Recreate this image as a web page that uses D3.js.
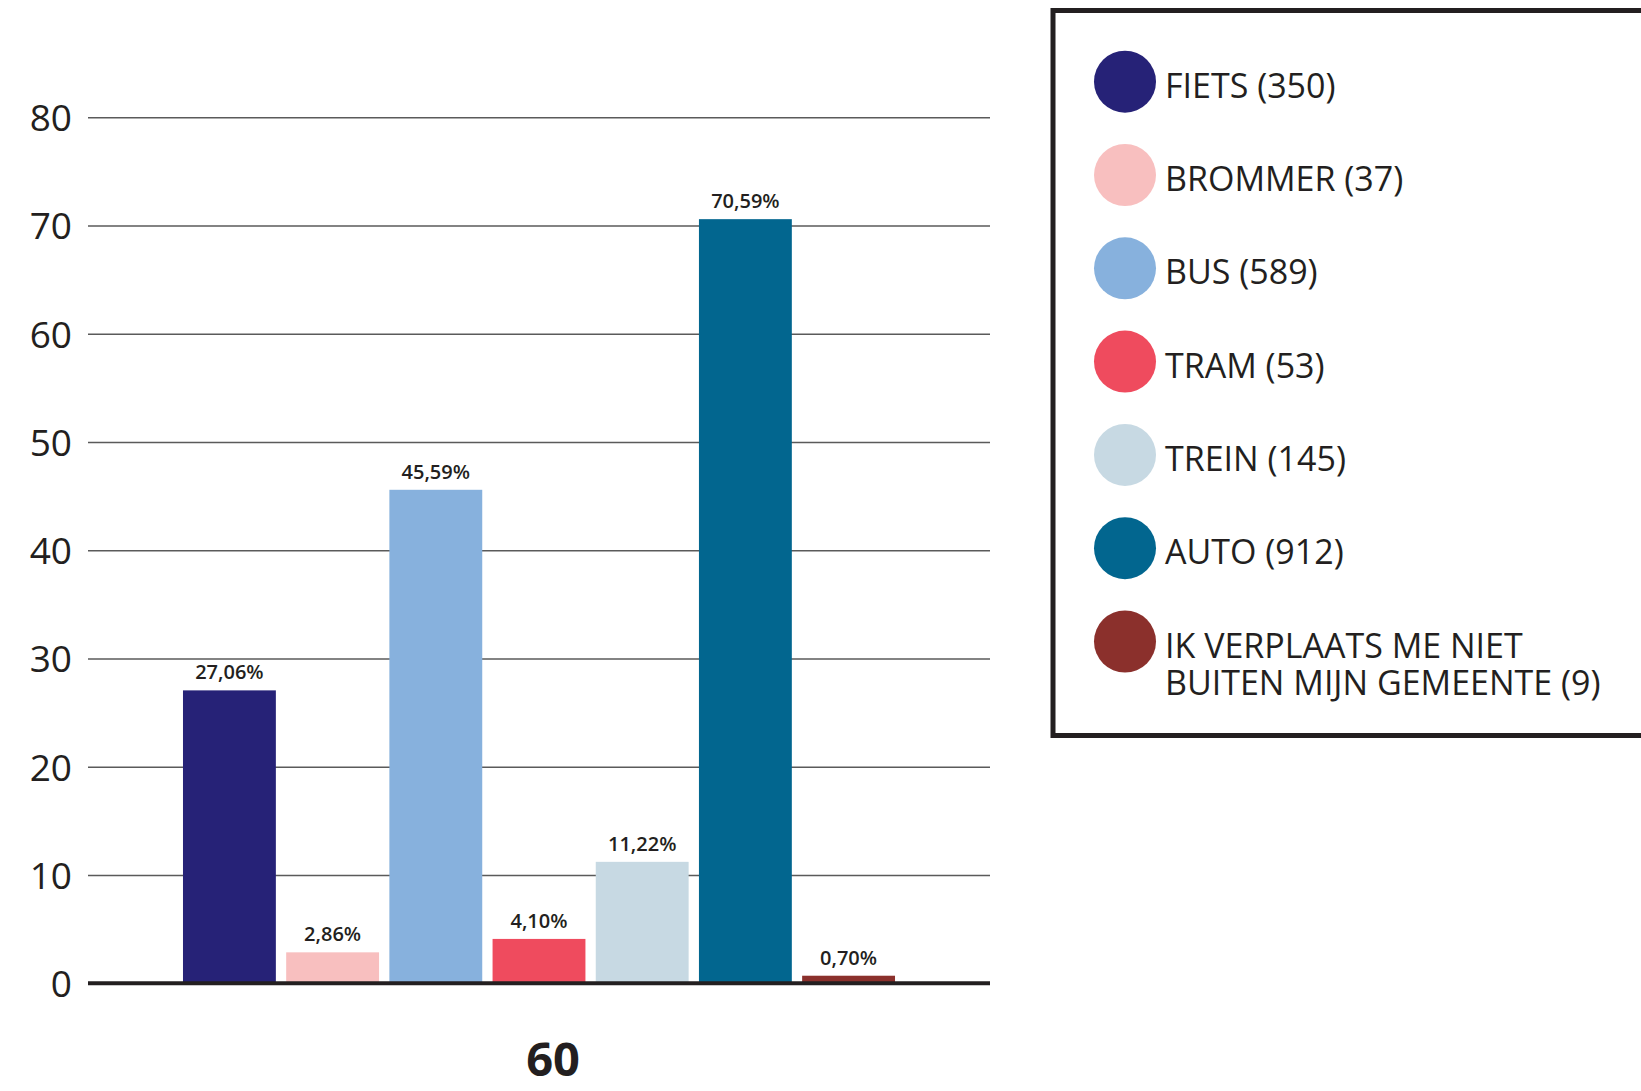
<!DOCTYPE html>
<html>
<head>
  <title>Vervoer</title>
  <script src="https://d3js.org/d3.v7.min.js"></script>
  <style>
    body { margin: 0; background: #fff; }
    svg { font-family: "Open Sans", "Noto Sans", sans-serif; }
    .grid line { stroke: #5a5a5a; stroke-width: 1.4px; }
    .grid text { fill: #231f20; font-size: 37px; }
    .val { fill: #231f20; font-size: 20px; font-weight: 600; text-anchor: middle; }
    .legend text { fill: #231f20; font-size: 34px; }
  </style>
</head>
<body>
  <script>
    // data
    var group = ["60"];
    var modes = ["FIETS", "BROMMER", "BUS", "TRAM", "TREIN", "AUTO", "IK VERPLAATS ME NIET BUITEN MIJN GEMEENTE"];
    var counts = [350, 37, 589, 53, 145, 912, 9];
    var percents = [27.06, 2.86, 45.59, 4.10, 11.22, 70.59, 0.70];
    var colors = ["#262277", "#f8bfbf", "#87b1dd", "#ef4b5e", "#c7d9e3", "#02668f", "#8b302c"];
    var yTicks = [0, 10, 20, 30, 40, 50, 60, 70, 80];

    var W = 1641, H = 1091;
    var plotLeft = 88, plotRight = 990, plotTop = 117.3, plotBottom = 983.3;

    var svg = d3.select("body").append("svg")
        .attr("width", W)
        .attr("height", H);

    var y = d3.scaleLinear().domain([0, 80]).range([plotBottom, plotTop]);

    var x0 = d3.scaleBand().domain(group).range([plotLeft, plotRight])
        .paddingInner(0).paddingOuter(0.1334);
    var x1 = d3.scaleBand().domain(modes).range([0, x0.bandwidth()])
        .paddingInner(0.1).paddingOuter(0);

    var nl = d3.formatLocale({decimal: ",", thousands: ".", grouping: [3], currency: ["€", ""]});
    var pct = nl.format(".2f");

    // gridlines + tick labels
    var axis = svg.append("g")
        .attr("class", "grid")
        .attr("transform", "translate(" + plotLeft + ",0)")
        .call(d3.axisLeft(y).tickValues(yTicks).tickSize(-(plotRight - plotLeft)).tickPadding(16));
    axis.attr("font-family", null).attr("font-size", null);
    axis.select(".domain").remove();
    axis.selectAll("text").attr("dy", "0.36em");

    var bars = modes.map(function(m, i) {
        return {mode: m, pct: percents[i], color: colors[i]};
    });

    var g = svg.append("g")
        .attr("transform", "translate(" + x0("60") + ",0)");

    g.selectAll("rect")
        .data(bars)
        .enter().append("rect")
        .attr("x", d => x1(d.mode))
        .attr("y", d => y(d.pct))
        .attr("width", x1.bandwidth())
        .attr("height", d => y(0) - y(d.pct))
        .attr("fill", d => d.color);

    g.selectAll("text.val")
        .data(bars)
        .enter().append("text")
        .attr("class", "val")
        .attr("x", d => x1(d.mode) + x1.bandwidth() / 2)
        .attr("y", d => y(d.pct) - 11)
        .text(d => pct(d.pct) + "%");

    // baseline
    svg.append("line")
        .attr("x1", plotLeft).attr("x2", plotRight)
        .attr("y1", y(0)).attr("y2", y(0))
        .attr("stroke", "#231f20")
        .attr("stroke-width", 4);

    // category label
    svg.append("text")
        .attr("x", x0("60") + x0.bandwidth() / 2 + 14)
        .attr("y", 1076)
        .attr("text-anchor", "middle")
        .attr("font-size", 47)
        .attr("font-weight", "bold")
        .attr("fill", "#231f20")
        .text(group[0]);

    // legend
    var lg = svg.append("g").attr("class", "legend");
    lg.append("rect")
        .attr("x", 1053).attr("y", 10.5)
        .attr("width", 700).attr("height", 725)
        .attr("fill", "none")
        .attr("stroke", "#231f20")
        .attr("stroke-width", 5);

    var legendLines = modes.map(function(m, i) {
        if (i === modes.length - 1) return ["IK VERPLAATS ME NIET", "BUITEN MIJN GEMEENTE (" + counts[i] + ")"];
        return [m + " (" + counts[i] + ")"];
    });

    var item = lg.selectAll("g.item")
        .data(modes)
        .enter().append("g")
        .attr("class", "item")
        .attr("transform", (d, i) => "translate(1125," + (81.7 + i * 93.3) + ")");

    item.append("circle")
        .attr("r", 31)
        .attr("fill", (d, i) => colors[i]);

    item.append("text")
        .attr("x", 40)
        .attr("y", 16)
        .each(function(d, i) {
            var t = d3.select(this);
            legendLines[i].forEach(function(line, k) {
                t.append("tspan").attr("x", 40).attr("y", 16 + k * 37).text(line);
            });
        });
  </script>
</body>
</html>
